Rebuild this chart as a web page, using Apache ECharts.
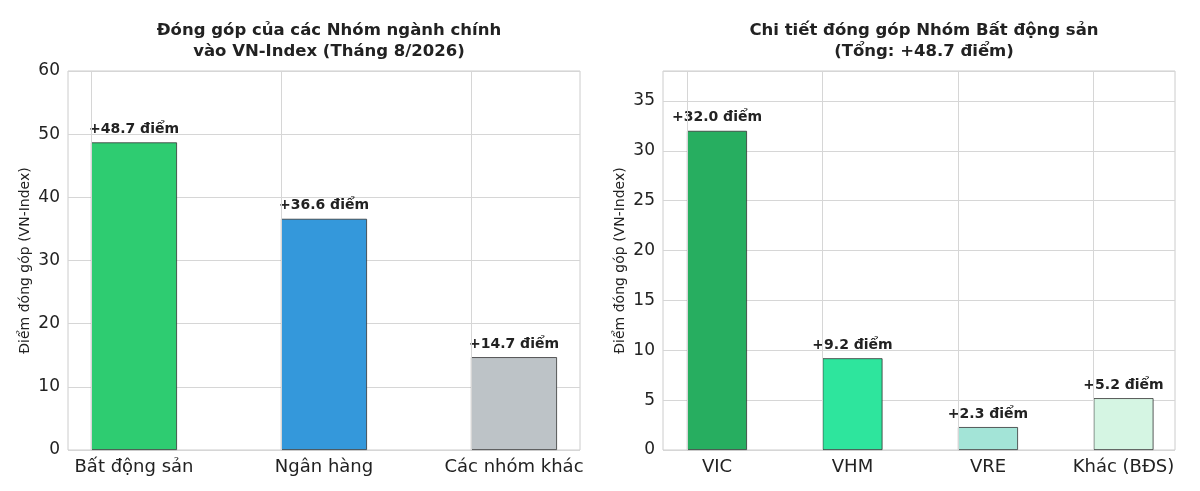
<!DOCTYPE html>
<html><head><meta charset="utf-8">
<script src="https://cdn.jsdelivr.net/npm/echarts@6/dist/echarts.min.js"></script>
<style>html,body{margin:0;padding:0;background:#fff}#c{width:1200px;height:491px}</style>
</head><body><div id="c"></div>
<script>
const leftCats = ['Bất động sản','Ngân hàng','Các nhóm khác'];
const leftVals = [48.7, 36.6, 14.7];
const leftColors = ['#2ecc71','#3498db','#bdc3c7'];
const rightCats = ['VIC','VHM','VRE','Khác (BĐS)'];
const rightVals = [32.0, 9.2, 2.3, 5.2];
const rightColors = ['#27ae60','#2ee59d','#a3e4d7','#d5f5e3'];

const F = 'DejaVu Sans';
const chart = echarts.init(document.getElementById('c'));
function frame(left){return {left:left,width:512,top:71,height:379,show:true,borderColor:'#cccccc',borderWidth:1};}
function inner(left,width){return {left:left,width:width,top:71,height:379};}
function catAxis(g,cats){return {type:'category',gridIndex:g,data:cats,axisLine:{show:false},axisTick:{show:false},
  axisLabel:{fontFamily:F,fontSize:18,color:'#222',margin:8},splitLine:{show:false}};}
function hiddenX(g){return {type:'value',gridIndex:g,show:false,splitLine:{show:false}};}
function valAxis(g,max,interval){return {type:'value',gridIndex:g,min:0,max:max,interval:interval,
  name:'Điểm đóng góp (VN-Index)',nameLocation:'middle',nameGap:36,nameTextStyle:{fontFamily:F,fontSize:14,color:'#222'},
  axisLine:{show:false},axisTick:{show:false},axisLabel:{fontFamily:F,fontSize:17,color:'#222',showMaxLabel:max%interval===0},
  splitLine:{lineStyle:{color:'#d6d6d6'}}};}
function hiddenY(g,max){return {type:'value',gridIndex:g,min:0,max:max,show:false,splitLine:{show:false}};}
function vlines(xi,yi,cats){return {type:'bar',xAxisIndex:xi,yAxisIndex:yi,data:[],z:1,silent:true,
  markLine:{silent:true,symbol:'none',label:{show:false},lineStyle:{color:'#d6d6d6',type:'solid',width:1},
  data:cats.map(c=>({xAxis:c}))}};}
function bars(xi,yi,vals,colors,w){return {type:'bar',xAxisIndex:xi,yAxisIndex:yi,barWidth:w,z:3,
  data:vals.map((v,i)=>({value:v,itemStyle:{color:colors[i],borderColor:'#333',borderWidth:0.8}})),
  label:{show:true,position:'top',distance:6,fontFamily:F,fontSize:14,fontWeight:'bold',color:'#222',
  formatter:p=>'+'+p.value.toFixed(1)+' điểm'}};}
chart.setOption({
  animation:false,
  title:[
    {text:'Đóng góp của các Nhóm ngành chính\nvào VN-Index (Tháng 8/2026)',left:324,top:15,textAlign:'center',
     textStyle:{fontFamily:F,fontSize:16.5,fontWeight:'bold',color:'#222',lineHeight:21}},
    {text:'Chi tiết đóng góp Nhóm Bất động sản\n(Tổng: +48.7 điểm)',left:919,top:15,textAlign:'center',
     textStyle:{fontFamily:F,fontSize:16.5,fontWeight:'bold',color:'#222',lineHeight:21}}
  ],
  grid:[frame(68),frame(663),inner(39,570),inner(649.25,542)],
  xAxis:[hiddenX(0),hiddenX(1),catAxis(2,leftCats),catAxis(3,rightCats)],
  yAxis:[valAxis(0,60,10),valAxis(1,38,5),hiddenY(2,60),hiddenY(3,38)],
  series:[vlines(2,2,leftCats),vlines(3,3,rightCats),
    bars(2,2,leftVals,leftColors,86),bars(3,3,rightVals,rightColors,60)]
});
</script></body></html>
